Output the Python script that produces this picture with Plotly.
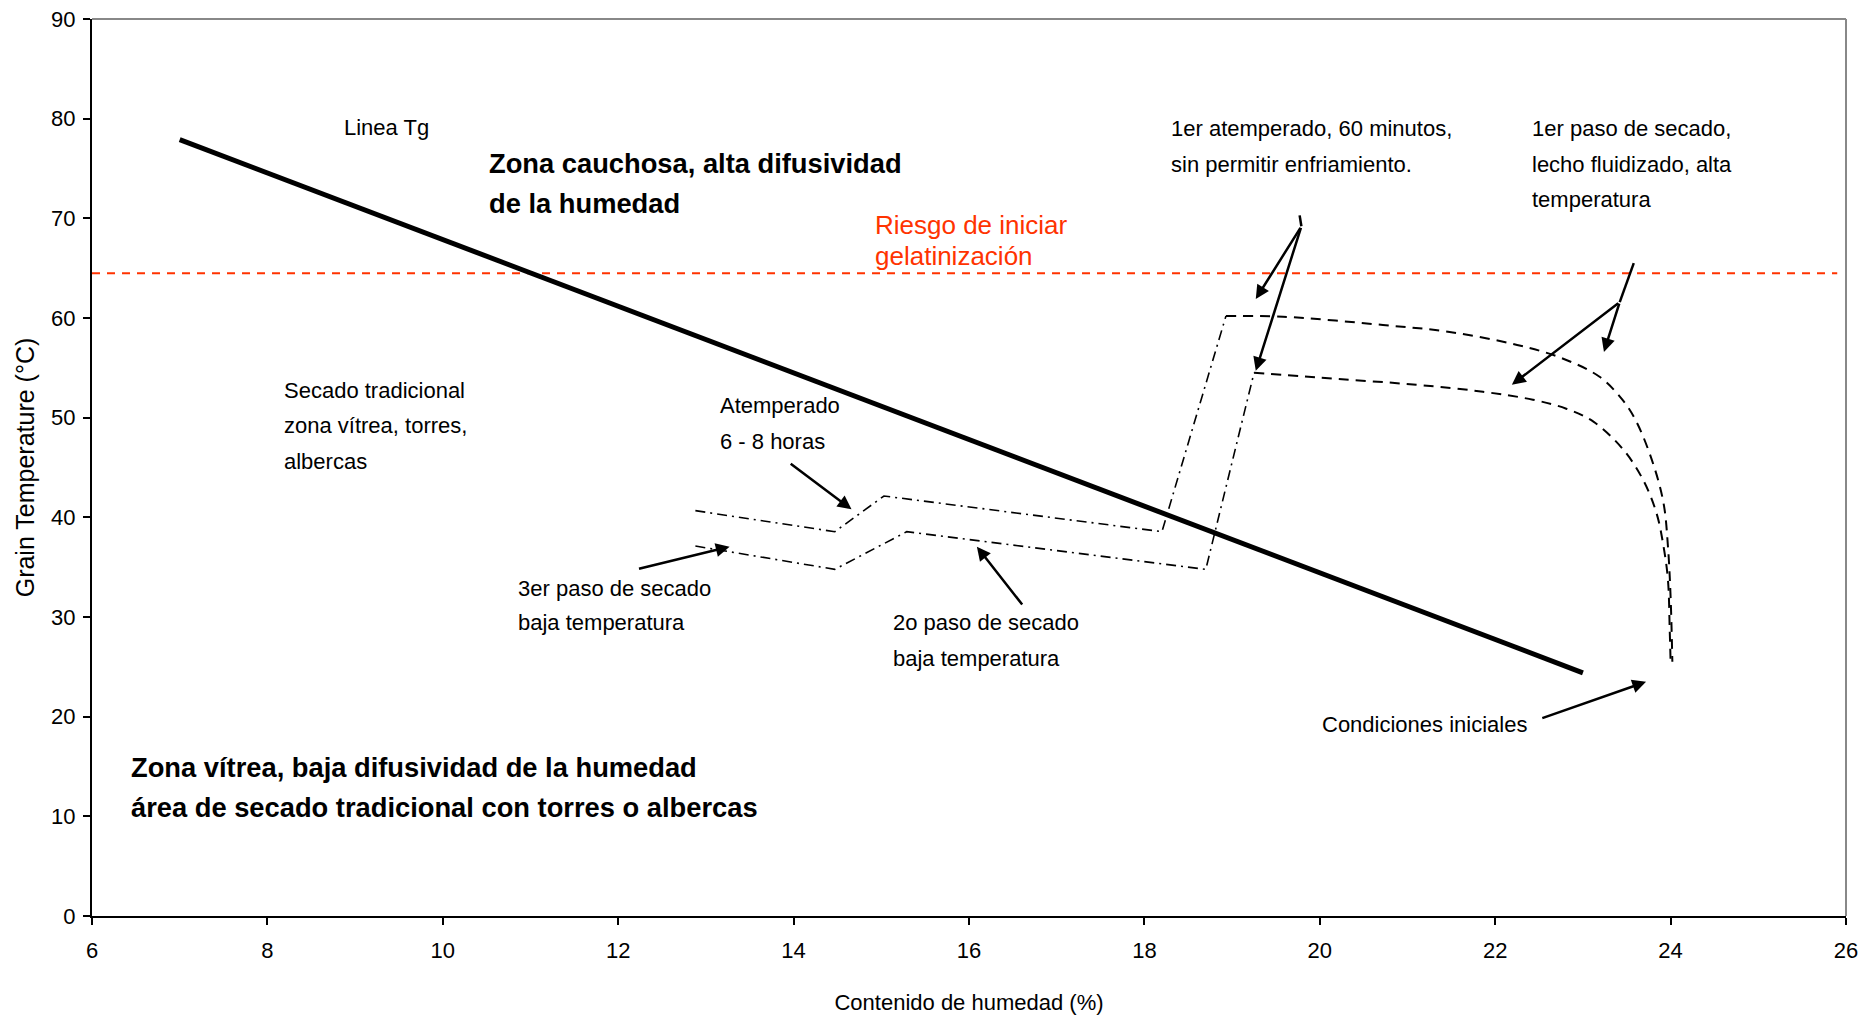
import plotly.graph_objects as go

# Glass transition (Tg) line
tg_x = [7.0, 23.0]
tg_y = [77.9, 24.4]

# Gelatinization risk threshold
gel_temp = 64.5
gel_x = [6.0, 25.9]

# Upper drying path: low-temperature steps (dash-dot) then fluid-bed step (dashed)
up_dd_x = [12.88, 14.47, 15.03, 18.20, 18.93]
up_dd_y = [40.67, 38.56, 42.14, 38.56, 60.2]
up_dash_x = [18.93, 19.58, 20.72, 21.48, 22.25, 22.75, 23.19, 23.45, 23.61, 23.80, 23.92, 23.97, 24.00, 24.02]
up_dash_y = [60.2, 60.13, 59.3, 58.6, 57.3, 56.0, 54.1, 51.8, 49.6, 45.4, 41.4, 37.05, 32.0, 25.5]

# Lower drying path
lo_dd_x = [12.88, 14.47, 15.29, 18.70, 19.25]
lo_dd_y = [37.12, 34.78, 38.56, 34.78, 54.5]
lo_dash_x = [19.25, 19.96, 21.10, 21.86, 22.43, 22.81, 23.12, 23.46, 23.69, 23.84, 23.92, 23.97, 23.99, 24.00]
lo_dash_y = [54.5, 54.04, 53.3, 52.6, 51.8, 50.9, 49.6, 46.8, 43.7, 40.4, 37.05, 33.7, 28.7, 25.5]

# Pointer arrows: (head_x, head_y, tail_x, tail_y)
arrows = [
    (14.66, 40.8, 13.95, 45.5),   # Atemperado
    (13.27, 37.05, 12.22, 34.8),  # 3er paso
    (16.09, 37.05, 16.62, 31.1),  # 2o paso
    (19.27, 61.9, 19.79, 69.2),   # 1er atemperado (upper)
    (19.27, 54.7, 19.79, 69.2),   # 1er atemperado (lower)
    (23.24, 56.6, 23.42, 61.6),   # 1er paso (upper)
    (22.19, 53.3, 23.42, 61.6),   # 1er paso (lower)
    (23.72, 23.5, 22.52, 19.8),   # Condiciones iniciales
]
# Short leader stubs above arrow junctions
stubs = [
    ([19.79, 19.77], [69.2, 70.3]),
    ([23.42, 23.58], [61.6, 65.5]),
]

# Text labels: (x, y, text, bold)
labels = [
    (8.85, 79.1, "Linea Tg", False),
    (10.50, 75.55, "Zona cauchosa, alta difusividad", True),
    (10.50, 71.5, "de la humedad", True),
    (18.28, 79.06, "1er atemperado, 60 minutos,", False),
    (18.28, 75.45, "sin permitir enfriamiento.", False),
    (22.40, 79.06, "1er paso de secado,", False),
    (22.40, 75.45, "lecho fluidizado, alta", False),
    (22.40, 71.85, "temperatura", False),
    (8.17, 52.7, "Secado tradicional", False),
    (8.17, 49.2, "zona vítrea, torres,", False),
    (8.17, 45.6, "albercas", False),
    (13.14, 51.2, "Atemperado", False),
    (13.14, 47.6, "6 - 8 horas", False),
    (10.83, 32.85, "3er paso de secado", False),
    (10.83, 29.4, "baja temperatura", False),
    (15.11, 29.4, "2o paso de secado", False),
    (15.11, 25.8, "baja temperatura", False),
    (20.00, 19.2, "Condiciones iniciales", False),
    (6.42, 14.95, "Zona vítrea, baja difusividad de la humedad", True),
    (6.42, 10.9, "área de secado tradicional con torres o albercas", True),
]
risk_lines = [(14.9, 69.3, "Riesgo de iniciar"), (14.9, 66.2, "gelatinización")]

FONT = "Liberation Sans, Arial, sans-serif"

fig = go.Figure()

fig.add_trace(go.Scatter(x=gel_x, y=[gel_temp, gel_temp], mode="lines",
                         line=dict(color="#FF3300", width=2, dash="8px,7px"),
                         hoverinfo="skip"))
fig.add_trace(go.Scatter(x=tg_x, y=tg_y, mode="lines",
                         line=dict(color="black", width=5)))
for xs, ys in [(up_dd_x, up_dd_y), (lo_dd_x, lo_dd_y)]:
    fig.add_trace(go.Scatter(x=xs, y=ys, mode="lines",
                             line=dict(color="black", width=1.6, dash="10px,5px,2px,5px")))
for xs, ys in [(up_dash_x, up_dash_y), (lo_dash_x, lo_dash_y)]:
    fig.add_trace(go.Scatter(x=xs, y=ys, mode="lines", line_shape="spline",
                             line=dict(color="black", width=2, dash="10px,7px")))
for xs, ys in stubs:
    fig.add_trace(go.Scatter(x=xs, y=ys, mode="lines",
                             line=dict(color="black", width=2.5)))

annotations = []
for hx, hy, tx, ty in arrows:
    annotations.append(dict(x=hx, y=hy, ax=tx, ay=ty, xref="x", yref="y",
                            axref="x", ayref="y", text="", showarrow=True,
                            arrowhead=2, arrowsize=1.1, arrowwidth=2.5,
                            arrowcolor="black", standoff=0, startstandoff=0))
for x, y, t, bold in labels:
    if bold:
        font = dict(family=FONT, size=27.3, color="black", weight="bold")
    else:
        font = dict(family=FONT, size=22, color="black")
    annotations.append(dict(x=x, y=y, xref="x", yref="y", text=t, showarrow=False,
                            xanchor="left", yanchor="middle", font=font))
for x, y, t in risk_lines:
    annotations.append(dict(x=x, y=y, xref="x", yref="y", text=t, showarrow=False,
                            xanchor="left", yanchor="middle",
                            font=dict(family=FONT, size=26, color="#FF3300")))

tick_font = dict(family=FONT, size=22, color="black")
fig.update_layout(
    width=1876, height=1019,
    margin=dict(l=92, r=30, t=19, b=103),
    paper_bgcolor="white", plot_bgcolor="white",
    showlegend=False,
    annotations=annotations,
    shapes=[
        dict(type="line", xref="paper", yref="paper", x0=0, x1=1, y0=1, y1=1,
             line=dict(color="#888888", width=2)),
        dict(type="line", xref="paper", yref="paper", x0=1, x1=1, y0=0, y1=1,
             line=dict(color="#888888", width=2)),
    ],
    xaxis=dict(range=[6, 26], dtick=2, tick0=6, showgrid=False, zeroline=False,
               showline=True, linecolor="black", linewidth=2, automargin=False,
               ticks="outside", ticklen=7, tickwidth=1.5, tickcolor="black",
               tickfont=tick_font, ticklabelstandoff=7,
               title=dict(text="Contenido de humedad (%)",
                          font=dict(family=FONT, size=22, color="black"), standoff=32)),
    yaxis=dict(range=[0, 90], dtick=10, showgrid=False, zeroline=False,
               showline=True, linecolor="black", linewidth=2, automargin=False,
               ticks="outside", ticklen=7, tickwidth=1.5, tickcolor="black",
               tickfont=tick_font, ticklabelstandoff=3,
               title=dict(text="Grain Temperature (°C)",
                          font=dict(family=FONT, size=25, color="black"), standoff=9)),
)

fig.write_html("out.html")
